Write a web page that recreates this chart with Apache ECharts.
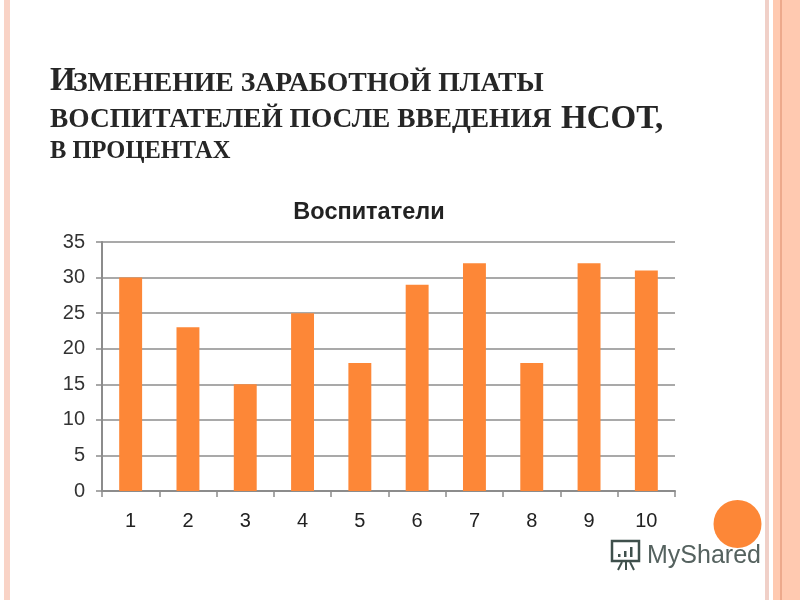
<!DOCTYPE html>
<html><head><meta charset="utf-8">
<style>html,body{margin:0;padding:0;background:#fff}#c{width:800px;height:600px}</style>
<script src="https://cdn.jsdelivr.net/npm/echarts@6/dist/echarts.min.js"></script>
</head><body><div id="c"></div>
<script>
const categories = ['1','2','3','4','5','6','7','8','9','10'];
const values = [30,23,15,25,18,29,32,18,32,31];
const chartTitle = 'Воспитатели';
const chart = echarts.init(document.getElementById('c'), null, {renderer:'canvas'});
const serif = '"Liberation Serif","Times New Roman",serif';
const band = (x,w,fill)=>({type:'rect',silent:true,z:-1,shape:{x,y:0,width:w,height:600},style:{fill}});
const head = (x,y,text,size)=>({type:'text',silent:true,x,y,style:{text,fill:'#262626',font:`bold ${size}px ${serif}`,verticalAlign:'middle',align:'left'}});
chart.setOption({
  animation:false,
  backgroundColor:'#fff',
  title:{text:chartTitle,left:364,top:196,textAlign:'center',textStyle:{fontFamily:'Liberation Sans',fontSize:23.5,fontWeight:'bold',color:'#222'}},
  grid:{left:102,right:125,top:242,bottom:109},
  xAxis:{type:'category',data:categories,
    axisLine:{lineStyle:{color:'#8c8c8c',width:2}},
    axisTick:{show:true,length:6,alignWithLabel:false,lineStyle:{color:'#8c8c8c',width:1.5}},
    axisLabel:{fontFamily:'Liberation Sans',fontSize:20,color:'#222',margin:20}},
  yAxis:{type:'value',min:0,max:35,interval:5,
    axisLine:{show:true,lineStyle:{color:'#8c8c8c',width:2}},
    axisTick:{show:true,length:6,lineStyle:{color:'#8c8c8c',width:1.5}},
    splitLine:{lineStyle:{color:'#8c8c8c',width:1.5}},
    axisLabel:{fontFamily:'Liberation Sans',fontSize:20,color:'#333',margin:17}},
  series:[{type:'bar',data:values,barWidth:'40%',itemStyle:{color:'#fd8737'}}],
  graphic:[
    band(4,6,'#f9d3c6'),
    band(765,4,'#f0d0c8'),band(773,7,'#ffc9b0'),band(780,2,'#eda98c'),band(782,18,'#ffc9b0'),
    head(50,81,'И',33),
    head(73,84,'ЗМЕНЕНИЕ ЗАРАБОТНОЙ ПЛАТЫ',27.7),
    head(50,120,'ВОСПИТАТЕЛЕЙ ПОСЛЕ ВВЕДЕНИЯ',27.4),
    head(561,119,'НСОТ,',33),
    head(50,152,'В ПРОЦЕНТАХ',24.5),
    {type:'circle',silent:true,z:5,shape:{cx:737.5,cy:524,r:24},style:{fill:'#fd8737'}},
    {type:'text',silent:true,z:6,x:647,y:556,style:{text:'MyShared',fill:'#55625f',font:'25px "Liberation Sans"',verticalAlign:'middle',align:'left'}},
    {type:'rect',silent:true,z:6,shape:{x:612,y:541,width:27,height:20},style:{fill:'none',stroke:'#3f504c',lineWidth:2.5}},
    {type:'rect',silent:true,z:6,shape:{x:618,y:554,width:2.5,height:3},style:{fill:'#3f504c'}},
    {type:'rect',silent:true,z:6,shape:{x:624,y:551,width:2.5,height:6},style:{fill:'#3f504c'}},
    {type:'rect',silent:true,z:6,shape:{x:630,y:547,width:2.5,height:10},style:{fill:'#3f504c'}},
    {type:'line',silent:true,z:6,shape:{x1:622,y1:562,x2:618,y2:570},style:{stroke:'#3f504c',lineWidth:2}},
    {type:'line',silent:true,z:6,shape:{x1:626,y1:562,x2:626,y2:570},style:{stroke:'#3f504c',lineWidth:2}},
    {type:'line',silent:true,z:6,shape:{x1:630,y1:562,x2:634,y2:570},style:{stroke:'#3f504c',lineWidth:2}}
  ]
});
</script></body></html>
